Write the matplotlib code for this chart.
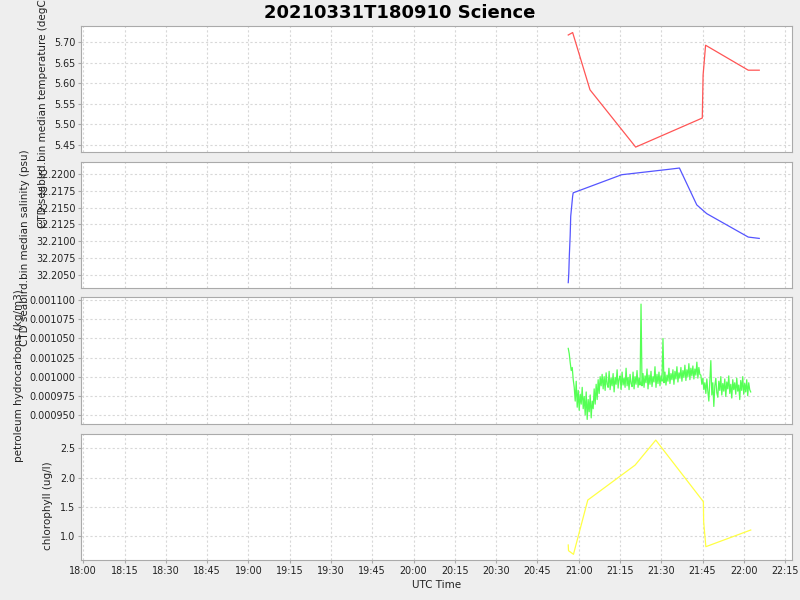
#!/usr/bin/env python3
"""
Stacked time series of the 20210331T180910 science run: temperature,
salinity, petroleum hydrocarbons and chlorophyll against UTC time.
"""

import pandas as pd
import matplotlib
matplotlib.use('Agg')
from matplotlib import pyplot as plt
import matplotlib.dates as mdates
from matplotlib.ticker import MultipleLocator, FormatStrFormatter

DAY = '2021-03-31 '

# Temperature (degC)
temp_times = ['20:56:12', '20:57:48', '21:04:06', '21:20:42', '21:44:54',
              '21:45:12', '21:46:06', '22:01:36', '22:05:36']
temp_values = [5.718, 5.724, 5.584, 5.444, 5.515, 5.620, 5.693, 5.632, 5.632]

# Salinity (psu)
sal_times = ['20:56:12', '20:56:24', '20:56:36', '20:56:54', '20:57:06',
             '20:57:48', '20:58:00', '21:15:36', '21:32:36', '21:36:36',
             '21:42:54', '21:46:30', '22:01:36', '22:05:36']
sal_values = [32.2038, 32.2052, 32.2079, 32.2108, 32.2137, 32.2167, 32.2172,
              32.2199, 32.2207, 32.2209, 32.2154, 32.2141, 32.2106, 32.2104]

# Petroleum hydrocarbons, regular samples from 20:56:12 to 22:02:30 (x 1e-6 kg/m3)
hc_start = '20:56:12'
hc_end = '22:02:30'
hc_values = [
    1037, 1030, 1018, 1008, 1012, 996,
    986, 968, 994, 960, 982, 956, 977, 964, 986, 958,
    974, 950, 980, 944, 970, 954, 976, 946, 968,
    958, 984, 964, 990, 970, 996, 978, 1000,
    988, 1003, 984, 1000, 982, 1005, 990, 986, 1007, 983, 998, 988, 1004, 980,
    999, 990, 1009, 985, 997, 1001, 983, 1006, 989, 998, 986, 1011, 988, 999,
    983, 1003, 991, 987, 1006, 984, 1000, 990, 1008, 986, 998, 989,
    1095,
    988, 1004, 986, 1001, 992, 1010, 984, 1002, 990, 1007, 987, 1000, 993, 1013,
    986, 1003, 991, 1006, 988, 1001, 994,
    1050,
    992, 1006, 989, 1002, 994, 1011, 991, 1004, 996, 1009, 990, 1007, 997, 1013,
    993, 1005, 998, 1012, 994, 1008, 999, 1015, 995, 1009, 1000, 1017, 996,
    1011, 1001, 1014, 997, 1010, 1002, 1019, 998, 1012, 1003,
    1002, 990, 998, 983, 992,
    978, 997, 981, 968, 994, 1021, 976, 992, 961, 988, 998, 979, 973, 994, 982,
    1000, 976, 991, 981, 997, 974, 993, 984, 1001, 978, 990, 972, 996, 983, 992,
    977, 998, 981, 989, 970, 995, 982, 1000, 977, 991, 980, 996, 975, 992, 983,
    980,
]
HC_UNIT = 1e-6

# Chlorophyll (ug/l)
chl_times = ['20:56:12', '20:56:18', '20:58:06', '21:03:18', '21:20:30',
             '21:28:00', '21:45:18', '21:45:24', '21:46:12', '22:02:30']
chl_values = [0.852, 0.755, 0.693, 1.618, 2.214, 2.640, 1.590, 1.249, 0.823, 1.107]


def to_dt(times):
    return pd.to_datetime([DAY + t for t in times])


hc_times = pd.date_range(DAY + hc_start, DAY + hc_end, periods=len(hc_values))
hc = [v * HC_UNIT for v in hc_values]

panels = [
    (to_dt(temp_times), temp_values, '#ff5555',
     'CTD seabird.bin median temperature (degC)',
     (5.432, 5.740), 0.05, '%.2f', (-0.0534, 0.317)),
    (to_dt(sal_times), sal_values, '#5555ff',
     'CTD seabird.bin median salinity (psu)',
     (32.2030, 32.2218), 0.0025, '%.4f', (-0.0788, 0.317)),
    (hc_times, hc, '#55ff55',
     'petroleum hydrocarbons (kg/m3)',
     (0.000938, 0.0011043), 0.000025, '%.6f', (-0.0872, 0.378)),
    (to_dt(chl_times), chl_values, '#ffff44',
     'chlorophyll (ug/l)',
     (0.596, 2.744), 0.5, '%.1f', (-0.0464, 0.4325)),
]

fig = plt.figure(figsize=(8, 6), dpi=100, facecolor='#eeeeee')
fig.suptitle('20210331T180910 Science', fontsize=13, fontweight='bold',
             x=0.5, y=0.993, va='top')

# Axes boxes in pixels: (top, bottom)
boxes = [(26, 152), (162, 288), (297, 424), (434, 560)]
left, right = 81, 792

x_min = pd.Timestamp(DAY + '17:59:10')
x_max = pd.Timestamp(DAY + '22:17:30')

axes = []
for i, ((t, v, color, label, ylim, step, fmt, lab_pos), (top, bot)) in enumerate(zip(panels, boxes)):
    ax = fig.add_axes([left / 800, 1 - bot / 600, (right - left) / 800, (bot - top) / 600])
    ax.set_facecolor('white')
    ax.plot(t, v, color=color, lw=0.9)
    ax.set_xlim(x_min, x_max)
    ax.set_ylim(*ylim)
    ax.yaxis.set_major_locator(MultipleLocator(step))
    ax.yaxis.set_major_formatter(FormatStrFormatter(fmt))
    ax.xaxis.set_major_locator(mdates.MinuteLocator(byminute=[0, 15, 30, 45]))
    ax.xaxis.set_major_formatter(mdates.DateFormatter('%H:%M'))
    ax.grid(True, color='#d8d8d8', linestyle=(0, (2, 2)), linewidth=0.8)
    ax.set_axisbelow(True)
    for s in ax.spines.values():
        s.set_color('#aaaaaa')
    ax.tick_params(axis='both', colors='#aaaaaa', labelcolor='#222222',
                   labelsize=6.9, length=2, width=0.8, pad=2)
    ax.set_ylabel(label, fontsize=7.5, color='#222222', va='center')
    ax.yaxis.set_label_coords(*lab_pos)
    if i < 3:
        ax.tick_params(axis='x', length=0, labelbottom=False)
    axes.append(ax)

axes[-1].set_xlabel('UTC Time', fontsize=7.5, color='#222222', labelpad=3)

plt.savefig('out.png', dpi=100, facecolor=fig.get_facecolor())
